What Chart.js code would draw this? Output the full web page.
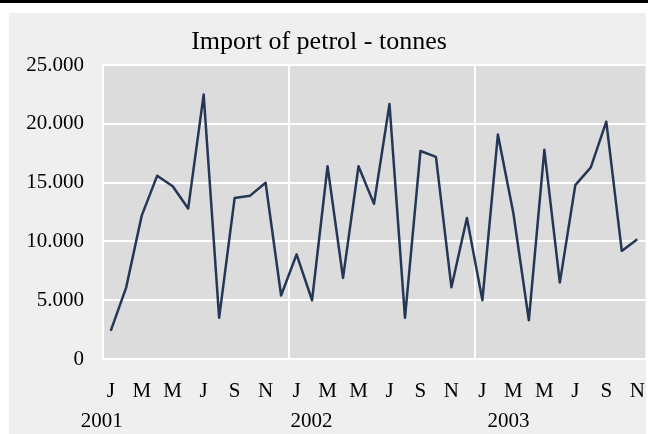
<!DOCTYPE html>
<html><head><meta charset="utf-8">
<script src="https://cdn.jsdelivr.net/npm/chart.js@4/dist/chart.umd.min.js"></script>
<style>
html,body{margin:0;padding:0;width:648px;height:434px;overflow:hidden;background:#fff;position:relative}
#bar{position:absolute;left:0;top:0;width:648px;height:3px;background:#000}
#panel{position:absolute;left:9px;top:13px;width:637px;height:421px;background:#efefef}
#wrap{position:absolute;left:-7px;top:0;width:655px;height:434px}
</style></head><body>
<div id="bar"></div><div id="panel"></div>
<div id="wrap"><canvas id="c" width="655" height="434"></canvas></div>
<script>
const categories = [
  'Jan 2001','Feb 2001','Mar 2001','Apr 2001','May 2001','Jun 2001','Jul 2001','Aug 2001','Sep 2001','Oct 2001','Nov 2001','Dec 2001',
  'Jan 2002','Feb 2002','Mar 2002','Apr 2002','May 2002','Jun 2002','Jul 2002','Aug 2002','Sep 2002','Oct 2002','Nov 2002','Dec 2002',
  'Jan 2003','Feb 2003','Mar 2003','Apr 2003','May 2003','Jun 2003','Jul 2003','Aug 2003','Sep 2003','Oct 2003','Nov 2003'
];
const monthLetters = ['J','F','M','A','M','J','J','A','S','O','N','D'];
const years = ['2001','2002','2003'];
const imports2001 = [2400, 6100, 12200, 15600, 14700, 12800, 22500, 3500, 13700, 13900, 15000, 5400];
const imports2002 = [8900, 5000, 16400, 6900, 16400, 13200, 21700, 3500, 17700, 17200, 6100, 12000];
const imports2003 = [5000, 19100, 12400, 3300, 17800, 6500, 14800, 16300, 20200, 9200, 10200];
const imports = imports2001.concat(imports2002, imports2003);
const yTicks = [0, 5000, 10000, 15000, 20000, 25000];
const chartTitle = 'Import of petrol - tonnes';

const FONT = '"Liberation Serif", "Times New Roman", serif';
function fmt(v){ return String(v).replace(/\B(?=(\d{3})+(?!\d))/g, '.'); }

const plotBg = {
  id: 'plotBg',
  beforeDraw(chart){
    const {ctx, chartArea:a} = chart;
    ctx.save(); ctx.fillStyle = '#dcdcdc';
    ctx.fillRect(a.left, a.top, a.right - a.left, a.bottom - a.top);
    ctx.restore();
  }
};
const yearLabels = {
  id: 'yearLabels',
  afterDraw(chart, args, opts){
    const xs = chart.scales.x, ctx = chart.ctx;
    ctx.save();
    ctx.font = '21px ' + FONT; ctx.fillStyle = '#000';
    ctx.textAlign = 'center'; ctx.textBaseline = 'middle';
    years.forEach((y, i) => {
      const idx = categories.indexOf('Jan ' + y);
      ctx.fillText(y, xs.getPixelForValue(idx) + opts.shift[i], opts.y);
    });
    ctx.restore();
  }
};

new Chart(document.getElementById('c'), {
  type: 'line',
  data: {
    labels: categories,
    datasets: [{
      data: imports,
      borderColor: '#253757',
      borderWidth: 2.5,
      borderJoinStyle: 'round',
      pointRadius: 0,
      tension: 0,
      fill: false
    }]
  },
  options: {
    responsive: false,
    animation: false,
    layout: { padding: { left: 0, right: 3, top: 0, bottom: 0 } },
    plugins: {
      legend: { display: false },
      tooltip: { enabled: false },
      title: {
        display: true, text: chartTitle, color: '#000',
        font: { family: FONT, size: 26, weight: 'normal', lineHeight: 1.2 },
        padding: { top: 27, bottom: 7 }
      },
      yearLabels: { shift: [-9, 15, 26], y: 421 }
    },
    scales: {
      x: {
        type: 'category',
        offset: true,
        grid: {
          offset: true,
          drawTicks: false,
          lineWidth: 2,
          color: (c) => (c.index % 12 === 0 || c.index === categories.length) ? '#ffffff' : 'rgba(0,0,0,0)'
        },
        border: { display: true, color: '#ffffff', width: 2 },
        ticks: {
          autoSkip: false, maxRotation: 0, minRotation: 0,
          padding: 20, color: '#000',
          font: { family: FONT, size: 21 },
          callback: (v, i) => (i % 2 === 0) ? monthLetters[i % 12] : ''
        },
        afterFit: (s) => { s.height = 75; s.paddingLeft = 0; s.paddingRight = 0; }
      },
      y: {
        min: 0, max: 25000,
        afterBuildTicks: (s) => { s.ticks = yTicks.map(v => ({ value: v })); },
        grid: { color: '#ffffff', lineWidth: 2, drawTicks: false },
        border: { display: true, color: '#ffffff', width: 2 },
        ticks: {
          padding: 19, color: '#000',
          font: { family: FONT, size: 21 },
          callback: (v) => fmt(v)
        },
        afterFit: (s) => { s.width = 110; }
      }
    }
  },
  plugins: [plotBg, yearLabels]
});
</script>
</body></html>
